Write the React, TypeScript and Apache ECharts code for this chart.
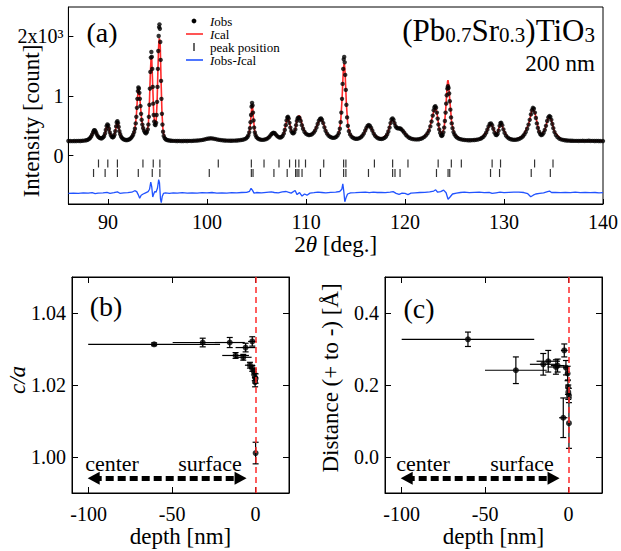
import React, { useEffect, useRef } from 'react';
import * as echarts from 'echarts';

const FONT = "'Liberation Serif', 'Times New Roman', serif";

// ---------- panel (a): observed profile [2theta, counts] ----------
const obs: number[][] = [
  [86.0, 246], [86.2, 245], [86.4, 244], [86.6, 246], [86.8, 245], [87.0, 247], [87.2, 246], [87.4, 249], [87.6, 252], [87.8, 258], [87.95, 266], [88.1, 280], [88.2, 298], [88.3, 322], [88.4, 355], [88.5, 395], [88.58, 422], [88.66, 425], [88.74, 405], [88.82, 375], [88.92, 340], [89.02, 315], [89.14, 298], [89.26, 290], [89.38, 292], [89.5, 305], [89.6, 325], [89.7, 370], [89.78, 430], [89.86, 495], [89.94, 523], [90.02, 505], [90.1, 450], [90.18, 390], [90.28, 345], [90.38, 315], [90.48, 305], [90.58, 318], [90.66, 350], [90.74, 410], [90.82, 490], [90.88, 555], [90.95, 578], [91.02, 545], [91.08, 480], [91.15, 410], [91.23, 360], [91.32, 320], [91.42, 295], [91.54, 278], [91.66, 268], [91.8, 262], [91.94, 262], [92.08, 268], [92.2, 278], [92.32, 295], [92.44, 320], [92.54, 350], [92.64, 395], [92.72, 450], [92.8, 540], [92.86, 650], [92.92, 800], [92.97, 950], [93.02, 1080], [93.07, 1140], [93.12, 1120], [93.17, 1050], [93.22, 950], [93.28, 830], [93.34, 700], [93.4, 600], [93.47, 520], [93.55, 460], [93.64, 415], [93.74, 385], [93.84, 375], [93.94, 395], [94.02, 440], [94.08, 520], [94.13, 650], [94.18, 850], [94.23, 1120], [94.28, 1400], [94.33, 1640], [94.38, 1733], [94.43, 1650], [94.47, 1450], [94.52, 1150], [94.57, 870], [94.62, 680], [94.67, 570], [94.73, 520], [94.8, 512], [94.86, 550], [94.91, 680], [94.96, 900], [95.0, 1150], [95.04, 1450], [95.08, 1750], [95.12, 2000], [95.16, 2150], [95.2, 2195], [95.24, 2120], [95.28, 1900], [95.32, 1600], [95.36, 1250], [95.4, 950], [95.45, 700], [95.5, 520], [95.56, 400], [95.63, 330], [95.72, 295], [95.82, 275], [95.94, 264], [96.08, 257], [96.24, 253], [96.4, 250], [96.6, 248], [96.8, 247], [97.0, 246], [97.2, 247], [97.4, 245], [97.6, 246], [97.8, 247], [98.0, 246], [98.2, 248], [98.4, 247], [98.6, 249], [98.8, 251], [99.0, 253], [99.2, 256], [99.4, 260], [99.6, 266], [99.8, 274], [100.0, 282], [100.2, 288], [100.4, 291], [100.6, 287], [100.8, 280], [101.0, 272], [101.2, 266], [101.4, 261], [101.6, 257], [101.8, 254], [102.0, 252], [102.2, 251], [102.4, 250], [102.6, 251], [102.8, 252], [103.0, 254], [103.2, 257], [103.4, 261], [103.6, 267], [103.8, 276], [103.96, 290], [104.08, 310], [104.18, 340], [104.27, 390], [104.34, 460], [104.4, 560], [104.45, 680], [104.5, 820], [104.55, 883], [104.6, 840], [104.65, 720], [104.7, 590], [104.76, 470], [104.83, 390], [104.9, 345], [105.0, 310], [105.12, 290], [105.26, 276], [105.42, 268], [105.6, 265], [105.78, 268], [105.96, 276], [106.12, 290], [106.28, 312], [106.42, 340], [106.54, 365], [106.64, 378], [106.74, 383], [106.84, 375], [106.96, 352], [107.1, 327], [107.24, 310], [107.38, 304], [107.52, 310], [107.64, 330], [107.76, 370], [107.86, 430], [107.96, 510], [108.04, 590], [108.12, 640], [108.18, 650], [108.25, 620], [108.33, 550], [108.42, 470], [108.52, 410], [108.62, 380], [108.72, 373], [108.82, 390], [108.92, 440], [109.0, 510], [109.08, 580], [109.16, 625], [109.24, 640], [109.34, 630], [109.46, 580], [109.58, 510], [109.7, 450], [109.84, 400], [109.98, 370], [110.14, 352], [110.3, 345], [110.46, 348], [110.62, 360], [110.78, 385], [110.92, 420], [111.06, 470], [111.18, 530], [111.3, 585], [111.42, 615], [111.52, 623], [111.62, 600], [111.74, 545], [111.86, 475], [111.98, 415], [112.12, 370], [112.28, 335], [112.44, 315], [112.6, 303], [112.76, 298], [112.92, 302], [113.06, 315], [113.2, 340], [113.32, 380], [113.42, 450], [113.5, 560], [113.57, 720], [113.64, 950], [113.7, 1200], [113.76, 1450], [113.81, 1610], [113.86, 1650], [113.91, 1560], [113.96, 1350], [114.02, 1100], [114.08, 850], [114.15, 640], [114.23, 500], [114.33, 410], [114.45, 355], [114.6, 318], [114.76, 297], [114.92, 286], [115.08, 282], [115.24, 285], [115.4, 294], [115.56, 310], [115.7, 335], [115.84, 370], [115.98, 420], [116.1, 465], [116.22, 500], [116.34, 512], [116.46, 500], [116.58, 465], [116.7, 420], [116.84, 370], [116.98, 332], [117.14, 305], [117.3, 290], [117.46, 282], [117.62, 280], [117.78, 285], [117.94, 298], [118.08, 320], [118.2, 355], [118.32, 405], [118.44, 470], [118.54, 545], [118.64, 605], [118.74, 623], [118.84, 600], [118.94, 545], [119.04, 495], [119.14, 468], [119.26, 458], [119.4, 457], [119.52, 455], [119.64, 440], [119.78, 415], [119.92, 385], [120.08, 350], [120.24, 322], [120.42, 300], [120.6, 287], [120.8, 278], [121.0, 273], [121.2, 272], [121.4, 275], [121.6, 283], [121.78, 295], [121.96, 315], [122.12, 340], [122.28, 375], [122.42, 420], [122.56, 490], [122.68, 570], [122.8, 670], [122.9, 760], [122.98, 810], [123.06, 828], [123.14, 800], [123.22, 720], [123.3, 620], [123.38, 520], [123.46, 440], [123.55, 380], [123.64, 340], [123.72, 330], [123.8, 345], [123.88, 390], [123.96, 470], [124.03, 580], [124.1, 720], [124.16, 870], [124.22, 1010], [124.28, 1120], [124.34, 1162], [124.4, 1130], [124.46, 1040], [124.52, 910], [124.58, 770], [124.65, 640], [124.72, 540], [124.8, 460], [124.9, 395], [125.0, 355], [125.12, 325], [125.26, 302], [125.42, 287], [125.6, 276], [125.8, 268], [126.0, 263], [126.2, 260], [126.4, 258], [126.6, 258], [126.8, 260], [127.0, 262], [127.2, 266], [127.4, 272], [127.6, 282], [127.76, 296], [127.92, 316], [128.06, 345], [128.2, 385], [128.32, 435], [128.44, 490], [128.56, 530], [128.68, 540], [128.8, 510], [128.92, 450], [129.04, 385], [129.16, 350], [129.26, 345], [129.36, 365], [129.46, 420], [129.56, 500], [129.64, 545], [129.72, 550], [129.82, 510], [129.94, 440], [130.06, 380], [130.2, 335], [130.36, 305], [130.52, 287], [130.7, 275], [130.88, 268], [131.06, 266], [131.24, 268], [131.42, 275], [131.6, 286], [131.76, 302], [131.92, 325], [132.06, 355], [132.2, 395], [132.34, 450], [132.48, 520], [132.6, 600], [132.72, 690], [132.82, 760], [132.92, 800], [133.02, 785], [133.12, 720], [133.22, 630], [133.32, 540], [133.42, 465], [133.54, 400], [133.66, 360], [133.76, 345], [133.88, 352], [134.0, 380], [134.12, 430], [134.24, 500], [134.36, 580], [134.48, 640], [134.58, 662], [134.68, 650], [134.78, 600], [134.88, 530], [134.98, 460], [135.1, 395], [135.24, 345], [135.4, 310], [135.58, 287], [135.76, 273], [135.96, 264], [136.16, 258], [136.36, 254], [136.56, 252], [136.76, 250], [136.96, 249], [137.16, 248], [137.36, 248], [137.56, 247], [137.76, 248], [137.96, 249], [138.16, 247], [138.36, 248], [138.56, 250], [138.76, 247], [138.96, 248], [139.16, 246], [139.36, 247], [139.56, 246], [139.76, 245], [140.0, 245],
];

// calculated profile [2theta, counts]
const calc: number[][] = [
  [86.0, 246], [87.0, 247], [87.6, 252], [87.95, 266], [88.2, 298], [88.4, 358], [88.5, 398], [88.6, 418], [88.7, 412], [88.82, 378], [89.02, 316], [89.26, 291], [89.5, 306], [89.7, 372], [89.86, 490], [89.95, 515], [90.04, 498], [90.18, 392], [90.38, 316], [90.58, 318], [90.74, 412], [90.88, 550], [90.95, 572], [91.02, 545], [91.15, 412], [91.32, 322], [91.66, 270], [92.0, 263], [92.32, 296], [92.54, 352], [92.72, 452], [92.86, 655], [92.97, 955], [93.05, 1100], [93.1, 1110], [93.17, 1045], [93.28, 830], [93.4, 600], [93.55, 460], [93.74, 388], [93.84, 382], [93.94, 398], [94.08, 525], [94.18, 860], [94.28, 1390], [94.36, 1660], [94.42, 1620], [94.52, 1150], [94.62, 690], [94.73, 530], [94.8, 525], [94.86, 560], [94.96, 900], [95.04, 1420], [95.12, 1850], [95.18, 1960], [95.22, 1940], [95.28, 1820], [95.36, 1260], [95.45, 720], [95.56, 410], [95.72, 298], [96.08, 258], [97.0, 247], [98.0, 246], [99.0, 253], [100.0, 282], [100.4, 290], [101.0, 272], [102.0, 252], [103.0, 254], [103.8, 276], [104.18, 342], [104.34, 455], [104.45, 670], [104.55, 860], [104.6, 835], [104.7, 600], [104.83, 395], [105.0, 312], [105.42, 268], [105.96, 276], [106.42, 340], [106.74, 385], [107.1, 328], [107.38, 305], [107.76, 372], [107.96, 515], [108.12, 640], [108.18, 648], [108.33, 555], [108.52, 412], [108.72, 378], [108.92, 445], [109.08, 590], [109.24, 660], [109.34, 670], [109.46, 620], [109.7, 460], [109.98, 372], [110.3, 346], [110.78, 386], [111.18, 532], [111.42, 612], [111.52, 618], [111.74, 545], [112.12, 370], [112.6, 303], [113.06, 316], [113.32, 382], [113.5, 560], [113.64, 940], [113.76, 1400], [113.84, 1540], [113.9, 1500], [113.96, 1340], [114.08, 860], [114.23, 500], [114.45, 356], [114.92, 286], [115.4, 294], [115.84, 370], [116.22, 502], [116.34, 510], [116.58, 465], [116.98, 332], [117.62, 280], [118.2, 356], [118.54, 548], [118.74, 618], [118.94, 548], [119.14, 475], [119.4, 470], [119.64, 450], [119.92, 388], [120.42, 300], [121.2, 272], [121.96, 316], [122.42, 422], [122.8, 672], [123.06, 825], [123.22, 722], [123.46, 440], [123.72, 340], [123.96, 478], [124.1, 740], [124.22, 1060], [124.3, 1240], [124.34, 1262], [124.4, 1200], [124.52, 940], [124.72, 545], [125.0, 356], [125.6, 276], [126.6, 258], [127.6, 282], [128.2, 386], [128.56, 530], [128.68, 542], [128.92, 450], [129.26, 348], [129.56, 502], [129.72, 552], [129.94, 440], [130.36, 305], [131.06, 266], [131.92, 326], [132.48, 522], [132.82, 762], [132.92, 795], [133.12, 722], [133.54, 400], [133.76, 348], [134.12, 432], [134.48, 642], [134.58, 660], [134.78, 600], [135.1, 396], [135.76, 273], [136.56, 252], [137.56, 247], [140.0, 245],
];

// difference curve Iobs - Ical (plotted with its offset) [2theta, counts]
const resid: number[][] = [
  [86.0, -628], [86.5, -625], [87.0, -630], [87.5, -622], [88.0, -626], [88.4, -618], [88.7, -632], [89.0, -624], [89.5, -620], [89.9, -612], [90.2, -628], [90.6, -618], [90.95, -605], [91.2, -628], [91.6, -622], [92.0, -618], [92.4, -610], [92.7, -585], [92.9, -600], [93.05, -650], [93.2, -712], [93.35, -660], [93.55, -640], [93.8, -620], [94.05, -600], [94.2, -560], [94.32, -440], [94.42, -520], [94.52, -690], [94.62, -640], [94.72, -600], [94.85, -610], [95.0, -540], [95.12, -400], [95.2, -450], [95.3, -720], [95.38, -785], [95.48, -680], [95.6, -630], [95.8, -622], [96.2, -628], [96.6, -620], [97.0, -625], [97.5, -618], [98.0, -626], [98.5, -620], [99.0, -624], [99.5, -617], [100.0, -622], [100.5, -615], [101.0, -624], [101.5, -620], [102.0, -626], [102.5, -618], [103.0, -622], [103.5, -615], [104.0, -612], [104.3, -595], [104.45, -545], [104.6, -580], [104.75, -625], [105.0, -615], [105.5, -620], [106.0, -612], [106.5, -605], [106.8, -615], [107.2, -620], [107.6, -605], [108.0, -598], [108.2, -610], [108.5, -625], [108.9, -580], [109.1, -650], [109.35, -615], [109.6, -675], [109.85, -640], [110.1, -660], [110.4, -625], [110.8, -618], [111.2, -610], [111.6, -615], [112.0, -622], [112.5, -612], [113.0, -610], [113.4, -598], [113.62, -560], [113.72, -470], [113.82, -600], [113.92, -770], [114.05, -700], [114.2, -640], [114.5, -622], [115.0, -618], [115.5, -612], [116.0, -608], [116.4, -616], [116.8, -610], [117.2, -615], [117.6, -612], [118.0, -618], [118.5, -608], [118.8, -600], [119.1, -630], [119.4, -645], [119.7, -625], [120.0, -630], [120.3, -650], [120.6, -625], [121.0, -620], [121.5, -615], [122.0, -612], [122.5, -606], [122.9, -590], [123.1, -570], [123.3, -610], [123.6, -600], [123.9, -575], [124.15, -620], [124.35, -728], [124.55, -690], [124.8, -640], [125.2, -625], [125.6, -615], [126.0, -610], [126.5, -618], [127.0, -612], [127.5, -608], [128.0, -618], [128.5, -612], [128.8, -630], [129.2, -620], [129.6, -610], [130.0, -618], [130.5, -612], [131.0, -608], [131.5, -610], [132.0, -615], [132.4, -635], [132.7, -685], [132.95, -660], [133.2, -640], [133.6, -630], [134.0, -620], [134.4, -600], [134.6, -590], [134.8, -615], [135.2, -612], [135.7, -618], [136.2, -612], [136.7, -616], [137.2, -610], [137.7, -618], [138.2, -612], [138.7, -616], [139.2, -615], [139.6, -620], [140.0, -618],
];

// Bragg peak positions (two rows of tick marks)
const peakLower: number[] = [88.54, 89.71, 90.95, 93.06, 94.47, 95.24, 100.23, 104.48, 104.65, 106.76, 108.1, 108.95, 109.1, 109.28, 109.6, 111.46, 113.8, 114.03, 116.31, 118.75, 118.99, 119.5, 123.18, 124.35, 124.52, 128.64, 129.55, 132.75, 134.68];
const peakUpper: number[] = [89.04, 89.98, 90.95, 93.53, 94.57, 95.24, 101.14, 104.48, 105.76, 107.27, 108.34, 108.95, 109.28, 109.95, 111.79, 113.8, 114.03, 116.91, 118.75, 120.3, 123.35, 124.68, 125.69, 128.8, 129.65, 133.09, 134.95];
const peakRowLower = -289;
const peakRowUpper = -130;

const xTicksA: number[] = [90, 100, 110, 120, 130, 140];
const yTicksA: number[] = [0, 1000, 2000];
const yTickLabelsA: string[] = ['0', '1', '2x10³'];

// ---------- panels (b) and (c): [depth, value, depthErr, valueErr] ----------
const depthTicks: number[] = [-100, -50, 0];
const caTicks: number[] = [1.0, 1.02, 1.04];
const distTicks: number[] = [0, 0.2, 0.4];

const caData: number[][] = [
  [-60.8, 1.0313, 39.5, 0.0004],
  [-31.7, 1.0318, 18, 0.0012],
  [-15.5, 1.0318, 9, 0.0014],
  [-2.0, 1.0321, 2.5, 0.0013],
  [-6.0, 1.0304, 6, 0.0012],
  [-12.0, 1.0282, 8, 0.0008],
  [-7.4, 1.0277, 5, 0.0008],
  [-3.4, 1.0255, 3, 0.0008],
  [-2.0, 1.0246, 2, 0.0008],
  [-1.0, 1.0236, 1, 0.0008],
  [-0.5, 1.0222, 0.5, 0.001],
  [0.0, 1.0218, 0.3, 0.0013],
  [-0.3, 1.0208, 0.3, 0.0013],
  [0.0, 1.0011, 0.2, 0.003],
];

const distData: number[][] = [
  [-60.3, 0.327, 39.7, 0.02],
  [-31.6, 0.241, 18.5, 0.037],
  [-15.2, 0.2575, 8, 0.03],
  [-12.2, 0.266, 7, 0.03],
  [-7.6, 0.25, 5, 0.02],
  [-6.6, 0.254, 4, 0.018],
  [-2.6, 0.296, 2, 0.018],
  [-1.6, 0.248, 1.5, 0.02],
  [-3.2, 0.109, 2.5, 0.055],
  [-0.4, 0.194, 0.4, 0.02],
  [-0.2, 0.18, 0.3, 0.02],
  [0.2, 0.171, 0.3, 0.02],
  [0.2, 0.094, 0.3, 0.07],
  [-0.6, 0.232, 0.5, 0.02],
];

// arrow "center <-> surface" in data units (depth from, depth to, level)
const arrowB = { from: -97, to: -9, y: 0.9941 };
const arrowC = { from: -97, to: -9, y: -0.059 };

const RED = '#ff2a2a';
const BLUE = '#2153ff';

const errorBarRender = (params: any, api: any) => {
  const x = api.value(0), y = api.value(1), ex = api.value(2), ey = api.value(3);
  const c = api.coord([x, y]);
  const l = api.coord([x - ex, y]);
  const r = api.coord([x + ex, y]);
  const t = api.coord([x, y + ey]);
  const b = api.coord([x, y - ey]);
  const style = { stroke: '#000', lineWidth: 1.2, fill: null };
  return {
    type: 'group',
    children: [
      { type: 'line', shape: { x1: l[0], y1: c[1], x2: r[0], y2: c[1] }, style },
      { type: 'line', shape: { x1: c[0], y1: t[1], x2: c[0], y2: b[1] }, style },
      { type: 'line', shape: { x1: c[0] - 3, y1: t[1], x2: c[0] + 3, y2: t[1] }, style },
      { type: 'line', shape: { x1: c[0] - 3, y1: b[1], x2: c[0] + 3, y2: b[1] }, style },
    ],
  };
};

const serifRich = (size: number, lh?: number) => ({
  i: { fontFamily: FONT, fontSize: size, fontStyle: 'italic', fill: '#000', color: '#000', lineHeight: lh },
  n: { fontFamily: FONT, fontSize: size, fill: '#000', color: '#000', lineHeight: lh },
});

const labelStyle = () => ({ fontFamily: FONT, fontSize: 20, color: '#000', rich: serifRich(20) });
const nameStyle = () => ({ fontFamily: FONT, fontSize: 23, color: '#000', rich: serifRich(23) });

function depthAxes(gridIndex: number) {
  const common = () => ({
    type: 'value', gridIndex, min: -110, max: 20,
    splitLine: { show: false },
    axisLine: { show: true, onZero: false, lineStyle: { color: '#000', width: 1 } },
    axisTick: { show: true, inside: true, length: 6, customValues: depthTicks, lineStyle: { color: '#000' } },
  });
  return [
    {
      ...common(), position: 'bottom',
      axisLabel: { ...labelStyle(), margin: 11, customValues: depthTicks, formatter: (v: number) => '{n|' + String(v) + '}' },
      name: '{n|depth [nm]}', nameLocation: 'middle', nameGap: 29, nameTextStyle: nameStyle(),
    },
    { ...common(), position: 'top', axisLabel: { show: false } },
  ];
}

function valueAxes(gridIndex: number, min: number, max: number, ticks: number[], digits: number) {
  const common = () => ({
    type: 'value', gridIndex, min, max,
    splitLine: { show: false },
    axisLine: { show: true, onZero: false, lineStyle: { color: '#000', width: 1 } },
    axisTick: { show: true, inside: true, length: 6, customValues: ticks, lineStyle: { color: '#000' } },
  });
  return [
    {
      ...common(), position: 'left',
      axisLabel: { ...labelStyle(), margin: 6, customValues: ticks, formatter: (v: number) => '{n|' + v.toFixed(digits) + '}' },
    },
    { ...common(), position: 'right', axisLabel: { show: false } },
  ];
}

function textEl(text: string, x: number, y: number, size: number, align: string, extra: any = {}, rotation = 0) {
  return {
    type: 'text', x, y, rotation, silent: true,
    style: {
      text, fontFamily: FONT, fontSize: size, fill: '#000',
      align, textAlign: align, verticalAlign: 'middle', textVerticalAlign: 'middle',
      ...extra,
    },
  };
}

export default function App() {
  const ref = useRef<HTMLDivElement>(null);

  useEffect(() => {
    if (!ref.current) return;
    const chart = echarts.init(ref.current, undefined, { renderer: 'svg' });

    const [bx1, bx2] = depthAxes(1);
    const [cx1, cx2] = depthAxes(2);
    const [by1, by2] = valueAxes(1, 0.99, 1.05, caTicks, 2);
    const [cy1, cy2] = valueAxes(2, -0.1, 0.5, distTicks, 1);

    const option: any = {
      animation: false,
      backgroundColor: '#fff',
      textStyle: { fontFamily: FONT },
      grid: [
        { left: 68.4, top: 7, width: 537.3, height: 197, show: true, borderColor: '#000', borderWidth: 1, backgroundColor: 'transparent', containLabel: false },
        { left: 72, top: 277, width: 217, height: 216, show: true, borderColor: '#000', borderWidth: 1, backgroundColor: 'transparent', containLabel: false },
        { left: 385, top: 277, width: 217, height: 216, show: true, borderColor: '#000', borderWidth: 1, backgroundColor: 'transparent', containLabel: false },
      ],
      xAxis: [
        {
          type: 'value', gridIndex: 0, min: 86, max: 140, position: 'bottom',
          splitLine: { show: false },
          axisLine: { show: true, onZero: false, lineStyle: { color: '#000' } },
          axisTick: { show: true, inside: true, length: 5, customValues: xTicksA, lineStyle: { color: '#000' } },
          axisLabel: { ...labelStyle(), margin: 8, customValues: xTicksA, formatter: (v: number) => '{n|' + String(v) + '}' },
          name: '{n|2}{i|θ}{n| [deg.]}', nameLocation: 'middle', nameGap: 28,
          nameTextStyle: nameStyle(),
        },
        bx1, bx2, cx1, cx2,
      ],
      yAxis: [
        {
          type: 'value', gridIndex: 0, min: -807, max: 2485, position: 'left',
          splitLine: { show: false },
          axisLine: { show: true, onZero: false, lineStyle: { color: '#000' } },
          axisTick: { show: true, inside: true, length: 5, customValues: yTicksA, lineStyle: { color: '#000' } },
          axisLabel: {
            ...labelStyle(), margin: 5, customValues: yTicksA,
            formatter: (v: number) => '{n|' + (yTickLabelsA[yTicksA.indexOf(v)] ?? String(v)) + '}',
          },
        },
        by1, by2, cy1, cy2,
      ],
      series: [
        {
          name: 'Ical', type: 'line', xAxisIndex: 0, yAxisIndex: 0, data: calc,
          showSymbol: false, symbol: 'none', lineStyle: { color: RED, width: 1.6 }, z: 2, silent: true,
        },
        {
          name: 'Iobs', type: 'scatter', xAxisIndex: 0, yAxisIndex: 0, data: obs,
          symbol: 'circle', symbolSize: 4.4, itemStyle: { color: '#000' }, z: 3, silent: true,
        },
        {
          name: 'peak lower', type: 'scatter', xAxisIndex: 0, yAxisIndex: 0,
          data: peakLower.map((p) => [p, peakRowLower]),
          symbol: 'rect', symbolSize: [1.2, 8], itemStyle: { color: '#000' }, silent: true,
        },
        {
          name: 'peak upper', type: 'scatter', xAxisIndex: 0, yAxisIndex: 0,
          data: peakUpper.map((p) => [p, peakRowUpper]),
          symbol: 'rect', symbolSize: [1.2, 8], itemStyle: { color: '#000' }, silent: true,
        },
        {
          name: 'Iobs-Ical', type: 'line', xAxisIndex: 0, yAxisIndex: 0, data: resid,
          showSymbol: false, symbol: 'none', lineStyle: { color: BLUE, width: 1.3 }, silent: true,
        },
        // panel (b)
        {
          type: 'custom', xAxisIndex: 1, yAxisIndex: 1, data: caData, renderItem: errorBarRender,
          encode: { x: 0, y: 1 }, silent: true, z: 3,
        },
        {
          type: 'scatter', xAxisIndex: 1, yAxisIndex: 1, data: caData.map((d) => [d[0], d[1]]),
          symbol: 'circle', symbolSize: 6, itemStyle: { color: '#000' }, z: 4, silent: true,
          markLine: {
            silent: true, symbol: 'none', label: { show: false },
            lineStyle: { color: RED, type: [6, 4], width: 1.5 },
            data: [{ xAxis: 0 }],
          },
        },
        {
          type: 'line', xAxisIndex: 1, yAxisIndex: 1, data: [], silent: true,
          markLine: {
            silent: true, symbol: ['triangle', 'triangle'], symbolSize: [13, 12], label: { show: false },
            lineStyle: { color: '#000', type: [8, 4], width: 5 },
            itemStyle: { color: '#000' },
            data: [[{ coord: [arrowB.from, arrowB.y] }, { coord: [arrowB.to, arrowB.y] }]],
          },
        },
        // panel (c)
        {
          type: 'custom', xAxisIndex: 3, yAxisIndex: 3, data: distData, renderItem: errorBarRender,
          encode: { x: 0, y: 1 }, silent: true, z: 3,
        },
        {
          type: 'scatter', xAxisIndex: 3, yAxisIndex: 3, data: distData.map((d) => [d[0], d[1]]),
          symbol: 'circle', symbolSize: 6, itemStyle: { color: '#000' }, z: 4, silent: true,
          markLine: {
            silent: true, symbol: 'none', label: { show: false },
            lineStyle: { color: RED, type: [6, 4], width: 1.5 },
            data: [{ xAxis: 0 }],
          },
        },
        {
          type: 'line', xAxisIndex: 3, yAxisIndex: 3, data: [], silent: true,
          markLine: {
            silent: true, symbol: ['triangle', 'triangle'], symbolSize: [13, 12], label: { show: false },
            lineStyle: { color: '#000', type: [8, 4], width: 5 },
            itemStyle: { color: '#000' },
            data: [[{ coord: [arrowC.from, arrowC.y] }, { coord: [arrowC.to, arrowC.y] }]],
          },
        },
      ],
      graphic: [
        // y titles
        textEl('Intensity [count]', 31, 121, 23, 'center', {}, Math.PI / 2),
        textEl('c/a', 17, 380, 23, 'center', { fontStyle: 'italic' }, Math.PI / 2),
        textEl('Distance (+ to -) [Å]', 330, 378, 23, 'center', {}, Math.PI / 2),
        // panel labels
        textEl('(a)', 102, 32, 28, 'center'),
        textEl('(b)', 106, 306, 28, 'center'),
        textEl('(c)', 419, 308, 28, 'center'),
        // compound name
        {
          type: 'text', x: 595, y: 30, silent: true,
          style: {
            text: '{m|(Pb}{s|0.7}{m|Sr}{s|0.3}{m|)TiO}{s|3}',
            align: 'right', textAlign: 'right', verticalAlign: 'middle', textVerticalAlign: 'middle',
            fontFamily: FONT, fontSize: 31, fill: '#000',
            rich: {
              m: { fontFamily: FONT, fontSize: 31, lineHeight: 30, verticalAlign: 'middle', fill: '#000' },
              s: { fontFamily: FONT, fontSize: 21, lineHeight: 12, verticalAlign: 'bottom', fill: '#000' },
            },
          },
        },
        textEl('200 nm', 595, 63, 23, 'right'),
        // legend
        { type: 'circle', silent: true, shape: { cx: 194, cy: 21, r: 2.4 }, style: { fill: '#000' } },
        { type: 'line', silent: true, shape: { x1: 186, y1: 34, x2: 203, y2: 34 }, style: { stroke: RED, lineWidth: 1.6 } },
        { type: 'rect', silent: true, shape: { x: 193.4, y: 43, width: 1.2, height: 8 }, style: { fill: '#000' } },
        { type: 'line', silent: true, shape: { x1: 186, y1: 60, x2: 203, y2: 60 }, style: { stroke: BLUE, lineWidth: 1.6 } },
        textEl('{i|I}{n|obs}', 210, 21, 13, 'left', { lineHeight: 10, rich: serifRich(13, 10) }),
        textEl('{i|I}{n|cal}', 210, 34, 13, 'left', { lineHeight: 10, rich: serifRich(13, 10) }),
        textEl('peak position', 210, 47, 13, 'left', { lineHeight: 10 }),
        textEl('{i|I}{n|obs-}{i|I}{n|cal}', 210, 60, 13, 'left', { lineHeight: 10, rich: serifRich(13, 10) }),
        // direction labels
        textEl('center', 112, 463, 22, 'center'),
        textEl('surface', 210, 463, 22, 'center'),
        textEl('center', 423, 463, 22, 'center'),
        textEl('surface', 522, 463, 22, 'center'),
      ],
    };

    chart.setOption(option);
    return () => chart.dispose();
  }, []);

  return (
    <div
      ref={ref}
      style={{ position: 'fixed', left: 0, top: 0, width: 621, height: 551, background: '#fff' }}
    />
  );
}
